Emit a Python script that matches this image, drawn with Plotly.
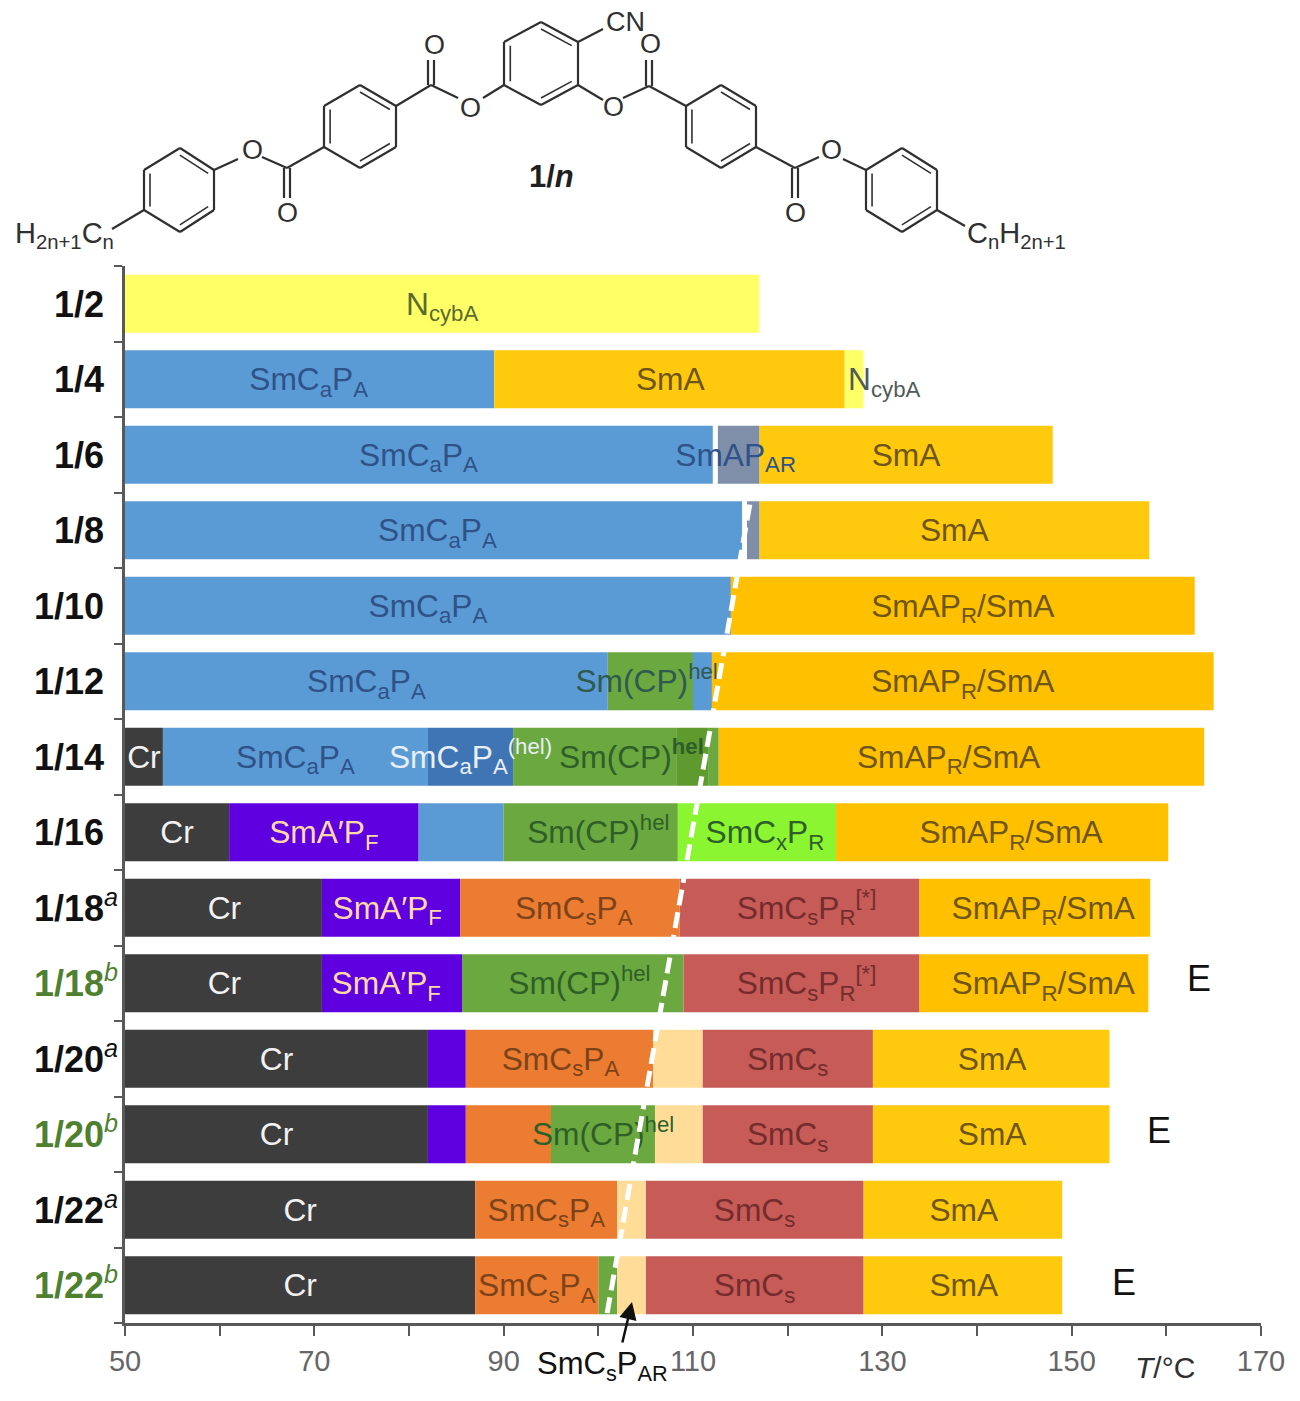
import plotly.graph_objects as go

# ---------- chart data ----------
row_labels = ["1/2", "1/4", "1/6", "1/8", "1/10", "1/12", "1/14", "1/16", "1/18", "1/18", "1/20", "1/20", "1/22", "1/22"]
row_sup = ["", "", "", "", "", "", "", "", "a", "b", "a", "b", "a", "b"]
row_green = [0, 0, 0, 0, 0, 0, 0, 0, 0, 1, 0, 1, 0, 1]

phase_names = ["Nc", "SmCaPA", "SmA", "SmAPAR", "SmAPR", "hel", "helDark", "helBlue", "Cr", "Purple", "SmCxPR", "SmCsPA", "SmCsPR", "PaleAR", "Gap"]
phase_colors = ["#FFFF66", "#5B9BD5", "#FFC90D", "#7F8FA9", "#FFC000", "#6BA83F", "#5E9A2E", "#3F74B5", "#3D3D3D", "#5F00E0", "#8CF531", "#EB7C31", "#C65B57", "#FFDD98", "#FFFFFF"]

seg_row = [0,
           1, 1, 1,
           2, 2, 2, 2,
           3, 3, 3, 3,
           4, 4,
           5, 5, 5, 5,
           6, 6, 6, 6, 6, 6, 6,
           7, 7, 7, 7, 7, 7,
           8, 8, 8, 8, 8,
           9, 9, 9, 9, 9,
           10, 10, 10, 10, 10, 10,
           11, 11, 11, 11, 11, 11, 11,
           12, 12, 12, 12, 12,
           13, 13, 13, 13, 13, 13]
seg_phase = ["Nc",
             "SmCaPA", "SmA", "Nc",
             "SmCaPA", "Gap", "SmAPAR", "SmA",
             "SmCaPA", "Gap", "SmAPAR", "SmA",
             "SmCaPA", "SmAPR",
             "SmCaPA", "hel", "SmCaPA", "SmAPR",
             "Cr", "SmCaPA", "helBlue", "hel", "helDark", "hel", "SmAPR",
             "Cr", "Purple", "SmCaPA", "hel", "SmCxPR", "SmAPR",
             "Cr", "Purple", "SmCsPA", "SmCsPR", "SmAPR",
             "Cr", "Purple", "hel", "SmCsPR", "SmAPR",
             "Cr", "Purple", "SmCsPA", "PaleAR", "SmCsPR", "SmA",
             "Cr", "Purple", "SmCsPA", "hel", "PaleAR", "SmCsPR", "SmA",
             "Cr", "SmCsPA", "PaleAR", "SmCsPR", "SmA",
             "Cr", "SmCsPA", "hel", "PaleAR", "SmCsPR", "SmA"]
seg_start = [50,
             50, 89, 126,
             50, 112.1, 112.6, 117,
             50, 115.2, 115.7, 117,
             50, 114,
             50, 101, 110, 112,
             50, 54, 82, 91, 108.3, 111.6, 112.7,
             50, 61, 81, 90, 108.4, 125.1,
             50, 70.8, 85.4, 108.6, 133.9,
             50, 70.8, 85.6, 109, 133.9,
             50, 82, 86, 105.8, 111, 129,
             50, 82, 86, 95, 106, 111, 129,
             50, 87, 102, 105, 128,
             50, 87, 100, 102, 105, 128]
seg_end = [117,
           89, 126, 128,
           112.1, 112.6, 117, 148,
           115.2, 115.7, 117, 158.2,
           114, 163,
           101, 110, 112, 165,
           54, 82, 91, 108.3, 111.6, 112.7, 164,
           61, 81, 90, 108.4, 125.1, 160.2,
           70.8, 85.4, 108.6, 133.9, 158.3,
           70.8, 85.6, 109, 133.9, 158.1,
           82, 86, 105.8, 111, 129, 154,
           82, 86, 95, 106, 111, 129, 154,
           87, 102, 105, 128, 149,
           87, 100, 102, 105, 128, 149]

C_BLUE = "#2F5288"; C_BRN = "#6E5518"; C_GRN = "#2F5F28"; C_WHT = "#F2F2F2"
C_ORG = "#7D4318"; C_RED = "#742C2C"; C_PALE = "#FFD9A8"; C_TEAL = "#2F5A50"
SCP = "SmC<sub>a</sub>P<sub>A</sub>"; SCS = "SmC<sub>s</sub>P<sub>A</sub>"; HEL = "Sm(CP)<sup>hel</sup>"
APR = "SmAP<sub>R</sub>/SmA"; SPR = "SmC<sub>s</sub>P<sub>R</sub><sup>[*]</sup>"; SAF = "SmA′P<sub>F</sub>"
SCC = "SmC<sub>s</sub>"

label_row = [0, 1, 1, 1, 2, 2, 2, 3, 3, 4, 4, 5, 5, 5, 6, 6, 6, 6, 6, 7, 7, 7, 7, 7, 8, 8, 8, 8, 8, 9, 9, 9, 9, 9, 10, 10, 10, 10, 11, 11, 11, 11, 12, 12, 12, 12, 13, 13, 13, 13]
label_x = [83.5, 69.4, 107.6, 130.2, 81, 114.5, 132.5, 83, 137.6, 82, 138.5, 75.5, 105.1, 138.5,
           52, 68, 86.5, 103.5, 137,
           55.5, 71, 100, 117.6, 143.6,
           60.5, 77.7, 97.4, 122, 147,
           60.5, 77.6, 98, 122, 147,
           66, 96, 120, 141.6,
           66, 100.5, 120, 141.6,
           68.5, 94.5, 116.5, 138.6,
           68.5, 93.5, 116.5, 138.6]
label_text = ["N<sub>cybA</sub>", SCP, "SmA", "N<sub>cybA</sub>", SCP, "SmAP<sub>AR</sub>", "SmA", SCP, "SmA", SCP, APR, SCP, HEL, APR,
              "Cr", SCP, "SmC<sub>a</sub>P<sub>A</sub><sup>(hel)</sup>", "Sm(CP)<sup><b>hel</b></sup>", APR,
              "Cr", SAF, HEL, "SmC<sub>x</sub>P<sub>R</sub>", APR,
              "Cr", SAF, SCS, SPR, APR,
              "Cr", SAF, HEL, SPR, APR,
              "Cr", SCS, SCC, "SmA",
              "Cr", HEL, SCC, "SmA",
              "Cr", SCS, SCC, "SmA",
              "Cr", SCS, SCC, "SmA"]
label_color = ["#5B6B30", C_BLUE, C_BRN, "#505A5A", C_BLUE, C_BLUE, C_BRN, C_BLUE, C_BRN, C_BLUE, C_BRN, C_BLUE, C_TEAL, C_BRN,
               C_WHT, C_BLUE, "#E8F0F8", C_GRN, C_BRN,
               C_WHT, C_PALE, C_GRN, C_GRN, C_BRN,
               C_WHT, C_PALE, C_ORG, C_RED, C_BRN,
               C_WHT, C_PALE, C_GRN, C_RED, C_BRN,
               C_WHT, C_ORG, C_RED, C_BRN,
               C_WHT, C_GRN, C_RED, C_BRN,
               C_WHT, C_ORG, C_RED, C_BRN,
               C_WHT, C_ORG, C_RED, C_BRN]
LABEL_SHIFT = 0.04

# dashed phase-boundary guide
guide_x = [116.0, 100.9]
guide_y = [2.66, 13.39]

x_tick_vals = [50, 60, 70, 80, 90, 100, 110, 120, 130, 140, 150, 160, 170]
x_tick_text = ["50", "", "70", "", "90", "", "110", "", "130", "", "150", "", "170"]
y_tick_vals = [-0.5, 0.5, 1.5, 2.5, 3.5, 4.5, 5.5, 6.5, 7.5, 8.5, 9.5, 10.5, 11.5, 12.5, 13.5]

# ---------- page geometry (page pixels; the page body has an 8 px margin) ----------
PL, PR, PT, PB = 125, 1261, 266, 1323
FONT = "Liberation Sans"


def px(x):
    return (x - PL) / (PR - PL)


def py(y):
    return 1 - (y - PT) / (PB - PT)


# ---------- molecule ----------
rings = [
    [(541, 22), (578, 42), (578, 85), (541, 105), (504, 85), (504, 42)],
    [(721, 85), (756, 106), (756, 147), (721, 168), (686, 147), (686, 106)],
    [(360, 85), (396, 106), (396, 147), (360, 168), (324, 147), (324, 106)],
    [(902, 148), (937, 170), (937, 210), (902, 232), (866, 210), (866, 170)],
    [(180, 148), (214, 170), (214, 210), (180, 232), (144, 210), (144, 170)],
]
ring_double_edges = [(0, 2, 4), (0, 2, 4), (0, 2, 4), (0, 2, 4), (0, 2, 4)]
bonds = [
    ((578, 42), (603, 29)),
    ((578, 85), (603, 100)), ((623, 98), (649, 86)), ((649, 86), (686, 106)),
    ((756, 147), (795, 168)), ((795, 168), (819, 157)), ((843, 159), (866, 170)), ((937, 210), (965, 226)),
    ((504, 85), (483, 98)), ((458, 98), (431, 85)), ((431, 85), (396, 106)),
    ((324, 147), (287, 168)), ((287, 168), (262, 157)), ((238, 159), (214, 170)), ((144, 210), (112, 229)),
]
double_bonds = [
    ((646, 60), (646, 86)), ((652, 60), (652, 86)),
    ((428, 60), (428, 85)), ((434, 60), (434, 85)),
    ((792, 168), (792, 198)), ((798, 168), (798, 198)),
    ((284, 168), (284, 198)), ((290, 168), (290, 198)),
]
atom_x = [650, 613, 795, 831, 470, 434, 287, 252]
atom_y = [44, 107, 213, 150, 108, 45, 213, 150]

shapes = []


def add_bond(a, b, w=2.2):
    shapes.append(dict(type="line", xref="paper", yref="paper", x0=px(a[0]), y0=py(a[1]),
                       x1=px(b[0]), y1=py(b[1]), line=dict(color="#303030", width=w)))


for ring, edges in zip(rings, ring_double_edges):
    cx = sum(p[0] for p in ring) / 6
    cy = sum(p[1] for p in ring) / 6
    for i in range(6):
        add_bond(ring[i], ring[(i + 1) % 6])
    for e in edges:
        a, b = ring[e], ring[(e + 1) % 6]
        ia = (a[0] + (cx - a[0]) * 0.17, a[1] + (cy - a[1]) * 0.17)
        ib = (b[0] + (cx - b[0]) * 0.17, b[1] + (cy - b[1]) * 0.17)
        add_bond(ia, ib, 1.6)
for a, b in bonds + double_bonds:
    add_bond(a, b)

# ---------- figure ----------
fig = go.Figure()
for name, color in zip(phase_names, phase_colors):
    idx = [i for i, p in enumerate(seg_phase) if p == name]
    fig.add_trace(go.Bar(
        orientation="h", y=[seg_row[i] for i in idx],
        x=[seg_end[i] - seg_start[i] for i in idx],
        base=[seg_start[i] for i in idx],
        width=0.768, marker=dict(color=color, line=dict(width=0)),
        name=name, hoverinfo="skip"))

fig.add_trace(go.Scatter(
    x=label_x, y=[r + LABEL_SHIFT for r in label_row], text=label_text, mode="text", textposition="middle center",
    textfont=dict(family=FONT, size=31.7, color=label_color), cliponaxis=False, hoverinfo="skip"))

fig.add_trace(go.Scatter(
    x=guide_x, y=guide_y, mode="lines",
    line=dict(color="white", width=5, dash="16px,7px"), hoverinfo="skip"))

ann = []


def text(x, y, s, size, color="#202020", anchor="center", family=FONT):
    ann.append(dict(x=px(x), y=py(y), xref="paper", yref="paper", text=s, showarrow=False,
                    xanchor=anchor, yanchor="middle", font=dict(family=family, size=size, color=color)))


for i, (lab, sup, g) in enumerate(zip(row_labels, row_sup, row_green)):
    col = "#4F8030" if g else "#111111"
    y = 304 + 75.5 * i
    if sup:
        text(32, y - 2.5, f"<b>{lab}</b><sup><i>{sup}</i></sup>", 36, col, "left")
    else:
        text(106, y, f"<b>{lab}</b>", 36, col, "right")

for ax_, ay_ in zip(atom_x, atom_y):
    text(ax_, ay_, "O", 27, "#303030")
text(625, 22, "CN", 27, "#303030")
text(64, 235, "H<sub>2n+1</sub>C<sub>n</sub>", 29, "#303030")
text(1016, 235, "C<sub>n</sub>H<sub>2n+1</sub>", 29, "#303030")
text(551, 177, "<b>1/<i>n</i></b>", 31, "#202020")
text(1199, 978, "E", 36, "#111111")
text(1159, 1130, "E", 36, "#111111")
text(1124, 1282, "E", 36, "#111111")
text(1165, 1367, "<i>T</i>/°C", 30, "#303030")
text(602, 1366, "SmC<sub>s</sub>P<sub>AR</sub>", 31, "#111111")
ann.append(dict(x=px(632), y=py(1302), xref="paper", yref="paper", ax=-10, ay=42,
                text="", showarrow=True, arrowhead=2, arrowsize=1.4,
                arrowwidth=2.5, arrowcolor="#111111"))

fig.update_layout(
    width=1284, height=1385, barmode="overlay", showlegend=False,
    margin=dict(l=117, r=31, t=258, b=70, pad=0),
    paper_bgcolor="white", plot_bgcolor="white",
    font=dict(family=FONT),
    shapes=shapes, annotations=ann,
    xaxis=dict(range=[50, 170], tickmode="array", tickvals=x_tick_vals, ticktext=x_tick_text, automargin=False,
               ticks="outside", ticklen=10, tickwidth=2, tickcolor="#595959",
               showline=True, linecolor="#595959", linewidth=3, showgrid=False, zeroline=False,
               tickfont=dict(family=FONT, size=29, color="#666666")),
    yaxis=dict(range=[13.5, -0.5], tickmode="array", tickvals=y_tick_vals, ticktext=[""] * 15, automargin=False,
               ticks="outside", ticklen=8, tickwidth=2, tickcolor="#595959",
               showline=True, linecolor="#595959", linewidth=2.5, showgrid=False, zeroline=False),
)
fig.write_html("out.html")
